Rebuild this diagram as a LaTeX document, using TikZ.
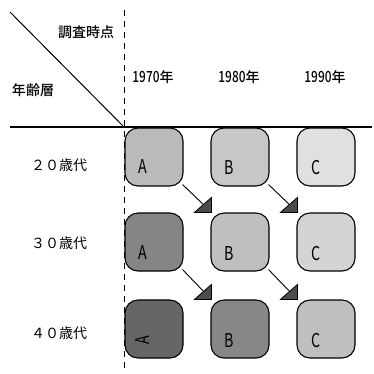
\documentclass[tikz,border=0pt]{standalone}
\usepackage{fontspec}
\newfontfamily\cjk{Noto Sans CJK JP}
\newfontfamily\cjkb{Noto Sans CJK JP Medium}
\newcommand{\narrowltr}[1]{\scalebox{0.75}[1]{#1}}
\newcommand{\narrowdig}[1]{\scalebox{0.85}[1.1]{#1}}
\begin{document}
\begin{tikzpicture}[x=1pt,y=-1pt,
  cell/.style={draw=black, line width=1.1pt, rounded corners=13pt, minimum width=58pt, minimum height=58pt, inner sep=0pt},
  lbl/.style={font=\cjk\fontsize{14}{16}\selectfont, inner sep=0pt},
  hdr/.style={font=\cjkb\fontsize{14}{16}\selectfont, inner sep=0pt},
  ltr/.style={font=\cjk\fontsize{19}{20}\selectfont, inner sep=0pt},
  conn/.style={line width=0.9pt},
  head/.style={draw=black, line width=0.8pt, fill=black!70}
]
\useasboundingbox (0,0) rectangle (374,373);
% grid lines
\coordinate (dtop) at (124,10);
\coordinate (dbot) at (124,372);
\coordinate (hl) at (10,127);
\coordinate (hr) at (372,127);
\coordinate (diagA) at (10,12);
\coordinate (diagB) at (124,127);
\draw[line width=1pt, dash pattern=on 6pt off 5pt] (dtop) -- (dbot);
\draw[line width=1.2pt] (hl) -- (hr);
\draw[line width=1pt] (diagA) -- (diagB);
% headers
\node[hdr] (h1) at (86,32) {調査時点};
\node[hdr] (h2) at (33,90) {年齢層};
\node[hdr] (y1) at (153,77) {\narrowdig{1970}年};
\node[hdr] (y2) at (239,77) {\narrowdig{1980}年};
\node[hdr] (y3) at (325,77) {\narrowdig{1990}年};
\node[lbl] (r1) at (59,165) {２０歳代};
\node[lbl] (r2) at (59,243) {３０歳代};
\node[lbl] (r3) at (59,333) {４０歳代};
% cells
\node[cell, fill=black!27] (a1) at (154,157) {};
\node[cell, fill=black!22] (b1) at (240,157) {};
\node[cell, fill=black!12] (c1) at (326,157) {};
\node[cell, fill=black!48] (a2) at (154,242) {};
\node[cell, fill=black!25] (b2) at (240,242) {};
\node[cell, fill=black!17] (c2) at (326,242) {};
\node[cell, fill=black!60] (a3) at (154,329) {};
\node[cell, fill=black!47] (b3) at (240,329) {};
\node[cell, fill=black!25] (c3) at (326,329) {};
% letters
\node[ltr] (la1) at (143,167) {\narrowltr{A}};
\node[ltr] (lb1) at (229,168) {\narrowltr{B}};
\node[ltr] (lc1) at (316,168) {\narrowltr{C}};
\node[ltr] (la2) at (143,253) {\narrowltr{A}};
\node[ltr] (lb2) at (229,254) {\narrowltr{B}};
\node[ltr] (lc2) at (316,254) {\narrowltr{C}};
\node[ltr, rotate=90] (la3) at (143,340) {\narrowltr{A}};
\node[ltr] (lb3) at (229,341) {\narrowltr{B}};
\node[ltr] (lc3) at (316,341) {\narrowltr{C}};
% arrows
\foreach \s/\t in {a1/b2, b1/c2, a2/b3, b2/c3}{
  \coordinate (tip) at ([shift={(1,0)}]\t.north west);
  \draw[conn] ([shift={(-1,-2)}]\s.south east) -- ([shift={(-4,-4)}]tip);
  \draw[head] (tip) -- ++(0,-15) -- ++(-17,15) -- cycle;
}
\end{tikzpicture}
\end{document}
